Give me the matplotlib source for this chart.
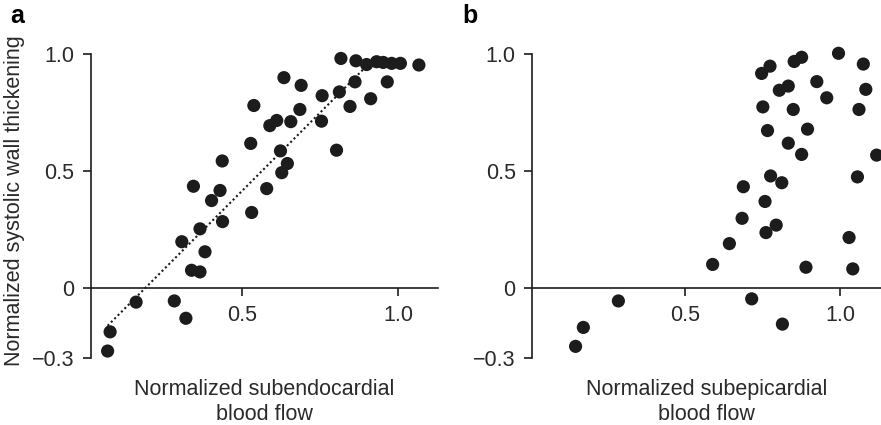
import numpy as np
import matplotlib.pyplot as plt

plt.rcParams["font.family"] = ["Liberation Sans", "DejaVu Sans"]

# ── Data ──────────────────────────────────────────────────────────────────────

# panel a: subendocardial flow vs wall thickening
endo_flow = [0.072, 0.080, 0.163, 0.285, 0.322, 0.309, 0.346, 0.340, 0.367,
             0.367, 0.383, 0.404, 0.431, 0.438, 0.439, 0.529, 0.532, 0.539,
             0.580, 0.590, 0.612, 0.624, 0.628, 0.635, 0.646, 0.657, 0.686,
             0.690, 0.755, 0.757, 0.803, 0.812, 0.817, 0.846, 0.862, 0.865,
             0.899, 0.912, 0.931, 0.952, 0.965, 0.979, 1.007, 1.066]
endo_thick = [-0.269, -0.187, -0.060, -0.055, -0.129, 0.198, 0.435, 0.076, 0.069,
              0.253, 0.155, 0.374, 0.417, 0.543, 0.284, 0.618, 0.323, 0.780,
              0.425, 0.694, 0.716, 0.586, 0.493, 0.899, 0.532, 0.711, 0.763,
              0.866, 0.713, 0.822, 0.589, 0.838, 0.981, 0.776, 0.881, 0.971,
              0.955, 0.809, 0.967, 0.964, 0.881, 0.960, 0.960, 0.953]

# dotted fit line (two segments)
fit_x = [0.072, 0.900, 1.000]
fit_y = [-0.161, 0.950, 0.955]

# panel b: subepicardial flow vs wall thickening
epi_flow = [0.147, 0.172, 0.285, 0.589, 0.643, 0.684, 0.688, 0.715, 0.747,
            0.751, 0.758, 0.761, 0.766, 0.774, 0.776, 0.794, 0.804, 0.812,
            0.814, 0.833, 0.833, 0.849, 0.852, 0.876, 0.876, 0.890, 0.895,
            0.925, 0.957, 0.995, 1.029, 1.041, 1.056, 1.061, 1.075, 1.083,
            1.118]
epi_thick = [-0.249, -0.168, -0.055, 0.101, 0.190, 0.298, 0.433, -0.046, 0.917,
             0.774, 0.370, 0.237, 0.673, 0.948, 0.479, 0.269, 0.845, 0.450,
             -0.154, 0.863, 0.619, 0.763, 0.968, 0.986, 0.571, 0.089, 0.679,
             0.882, 0.813, 1.003, 0.216, 0.082, 0.475, 0.763, 0.957, 0.849,
             0.568]

y_ticks = [-0.3, 0, 0.5, 1.0]
y_ticklabels = ["\u22120.3", "0", "0.5", "1.0"]
x_ticks = [0.5, 1.0]
x_ticklabels = ["0.5", "1.0"]

# ── Figure ────────────────────────────────────────────────────────────────────

W, H = 881, 425
fig = plt.figure(figsize=(W / 100, H / 100), dpi=100)

ink = "#1c1c1c"
txt = "#2a2a2a"


def make_axes(left_px, right_px, xlim):
    top_px, bot_px = 54, 358.3
    ax = fig.add_axes([left_px / W, 1 - bot_px / H,
                       (right_px - left_px) / W, (bot_px - top_px) / H])
    ax.set_xlim(*xlim)
    ax.set_ylim(-0.3, 1.0)
    ax.spines["top"].set_visible(False)
    ax.spines["right"].set_visible(False)
    ax.spines["bottom"].set_position(("data", 0))
    ax.spines["left"].set_bounds(-0.3, 1.0)
    for s in ("left", "bottom"):
        ax.spines[s].set_linewidth(1.2)
        ax.spines[s].set_color(ink)
    ax.set_yticks(y_ticks)
    ax.set_yticklabels(y_ticklabels)
    ax.set_xticks(x_ticks)
    ax.set_xticklabels(x_ticklabels)
    ax.tick_params(direction="out", length=6, width=1.2, color=ink,
                   labelsize=15.5, labelcolor=txt, pad=6)
    ax.tick_params(axis="x", pad=6)
    ax.patch.set_visible(False)
    return ax


# panel a
ax1 = make_axes(90.7, 438, (0.018, 1.127))
ax1.plot(fit_x, fit_y, color=ink, lw=1.5, linestyle=(0, (1.0, 1.3)), zorder=2)
ax1.scatter(endo_flow, endo_thick, s=90, color=ink, edgecolors="none",
            clip_on=False, zorder=3)
ax1.text(0.5, -0.068, "Normalized subendocardial\nblood flow",
         transform=ax1.transAxes, ha="center", va="top", fontsize=15.5,
         color=txt, linespacing=1.22)

# panel b
ax2 = make_axes(532.3, 881, (0.0074, 1.132))
ax2.scatter(epi_flow, epi_thick, s=90, color=ink, edgecolors="none",
            clip_on=False, zorder=3)
ax2.text(0.5, -0.068, "Normalized subepicardial\nblood flow",
         transform=ax2.transAxes, ha="center", va="top", fontsize=15.5,
         color=txt, linespacing=1.22)

fig.text(15 / W, 1 - 201 / H, "Normalized systolic wall thickening",
         rotation=90, ha="center", va="center", fontsize=15.5, color=txt)

fig.text(10 / W, 1 - 4 / H, "a", ha="left", va="top", fontsize=18,
         fontweight="bold", color="black")
fig.text(462 / W, 1 - 4 / H, "b", ha="left", va="top", fontsize=18,
         fontweight="bold", color="black")

fig.savefig("out.png", dpi=100)
